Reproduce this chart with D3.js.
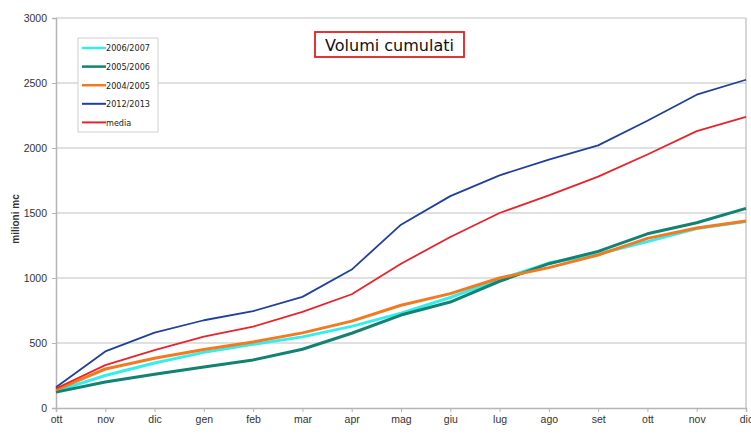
<!DOCTYPE html>
<html><head><meta charset="utf-8">
<script src="https://cdn.jsdelivr.net/npm/d3@7"></script>
<style>body{margin:0;background:#fff}svg{display:block}</style>
</head><body>
<svg id="c" width="751" height="446"></svg>
<script>
const months = ["ott","nov","dic","gen","feb","mar","apr","mag","giu","lug","ago","set","ott","nov","dic"];
const yTicks = [0,500,1000,1500,2000,2500,3000];
const s2006_2007 = [130,250,346,428,490,547,628,730,850,990,1115,1185,1280,1380,1435];
const s2005_2006 = [122,200,260,315,370,452,575,715,815,975,1110,1205,1340,1425,1536];
const s2004_2005 = [140,300,382,450,508,578,668,790,880,1000,1080,1177,1305,1385,1438];
const s2012_2013 = [160,435,580,675,745,855,1065,1410,1630,1790,1910,2020,2210,2410,2525];
const media      = [150,330,446,549,626,740,875,1110,1315,1500,1635,1780,1950,2130,2240];
const seriesNames = ["2006/2007","2005/2006","2004/2005","2012/2013","media"];

const series = [
  {name:seriesNames[0], values:s2006_2007, color:"#33eeee", w:3},
  {name:seriesNames[1], values:s2005_2006, color:"#128273", w:3},
  {name:seriesNames[2], values:s2004_2005, color:"#f47a20", w:3},
  {name:seriesNames[3], values:s2012_2013, color:"#21409a", w:1.8},
  {name:seriesNames[4], values:media, color:"#e8232b", w:1.8}
];

const svg = d3.select("#c");
const L=56, R=746, T=18, B=408;
const x = d3.scalePoint().domain(d3.range(months.length)).range([L,R]);
const y = d3.scaleLinear().domain([0,3000]).range([B,T]);

// gridlines
svg.append("g").selectAll("line").data(yTicks.filter(d=>d>0)).join("line")
  .attr("x1",L).attr("x2",R).attr("y1",d=>y(d)).attr("y2",d=>y(d))
  .attr("stroke","#d6d6d6").attr("stroke-width",1.5);
// right border
svg.append("line").attr("x1",R).attr("x2",R).attr("y1",T).attr("y2",B)
  .attr("stroke","#c8c8c8").attr("stroke-width",1.5);

// y axis
const ya = svg.append("g").attr("transform",`translate(${L},0)`)
  .call(d3.axisLeft(y).tickValues(yTicks).tickFormat(d3.format("d")).tickSize(4).tickPadding(5));
ya.select(".domain").attr("stroke","#b5b5b5").attr("stroke-width",1.5);
ya.selectAll(".tick line").attr("stroke","#b5b5b5");
ya.selectAll("text").attr("font-family","Liberation Sans, Arial, sans-serif").attr("font-size",10.5).attr("fill","#333");

// x axis
const xa = svg.append("g").attr("transform",`translate(0,${B})`)
  .call(d3.axisBottom(x).tickFormat(i=>months[i]).tickSize(4).tickPadding(4));
xa.select(".domain").attr("stroke","#b5b5b5").attr("stroke-width",1.5);
xa.selectAll(".tick line").attr("stroke","#b5b5b5");
xa.selectAll("text").attr("font-family","Liberation Sans, Arial, sans-serif").attr("font-size",10.5).attr("fill","#333");

// y title
svg.append("text").attr("transform","translate(19,219) rotate(-90)")
  .attr("text-anchor","middle").attr("font-family","Liberation Sans, Arial, sans-serif")
  .attr("font-size",10).attr("font-weight","bold").attr("fill","#333").text("milioni mc");

// lines
const line = d3.line().x((d,i)=>x(i)).y(d=>y(d));
svg.append("g").selectAll("path").data(series).join("path")
  .attr("d",d=>line(d.values)).attr("fill","none")
  .attr("stroke",d=>d.color).attr("stroke-width",d=>d.w)
  .attr("stroke-linejoin","round");

// legend
const lg = svg.append("g");
lg.append("rect").attr("x",78).attr("y",38).attr("width",80).attr("height",94)
  .attr("fill","#fff").attr("stroke","#d0d0d0");
const items = lg.selectAll("g").data(series).join("g")
  .attr("transform",(d,i)=>`translate(0,${48+i*18.6})`);
items.append("line").attr("x1",82).attr("x2",106).attr("y1",0).attr("y2",0)
  .attr("stroke",d=>d.color).attr("stroke-width",d=>d.w>2?2.5:2);
items.append("text").attr("x",106).attr("y",3.3).attr("font-family","DejaVu Sans Condensed, DejaVu Sans, sans-serif")
  .attr("font-size",9).attr("fill","#222").text(d=>d.name);

// title
svg.append("rect").attr("x",315).attr("y",32).attr("width",149).attr("height",25)
  .attr("fill","#fff").attr("stroke","#e02020").attr("stroke-width",1.8);
svg.append("text").attr("x",389.5).attr("y",51).attr("text-anchor","middle")
  .attr("font-family","DejaVu Sans, Verdana, sans-serif").attr("font-size",16).attr("fill","#111").text("Volumi cumulati");
</script>
</body></html>
